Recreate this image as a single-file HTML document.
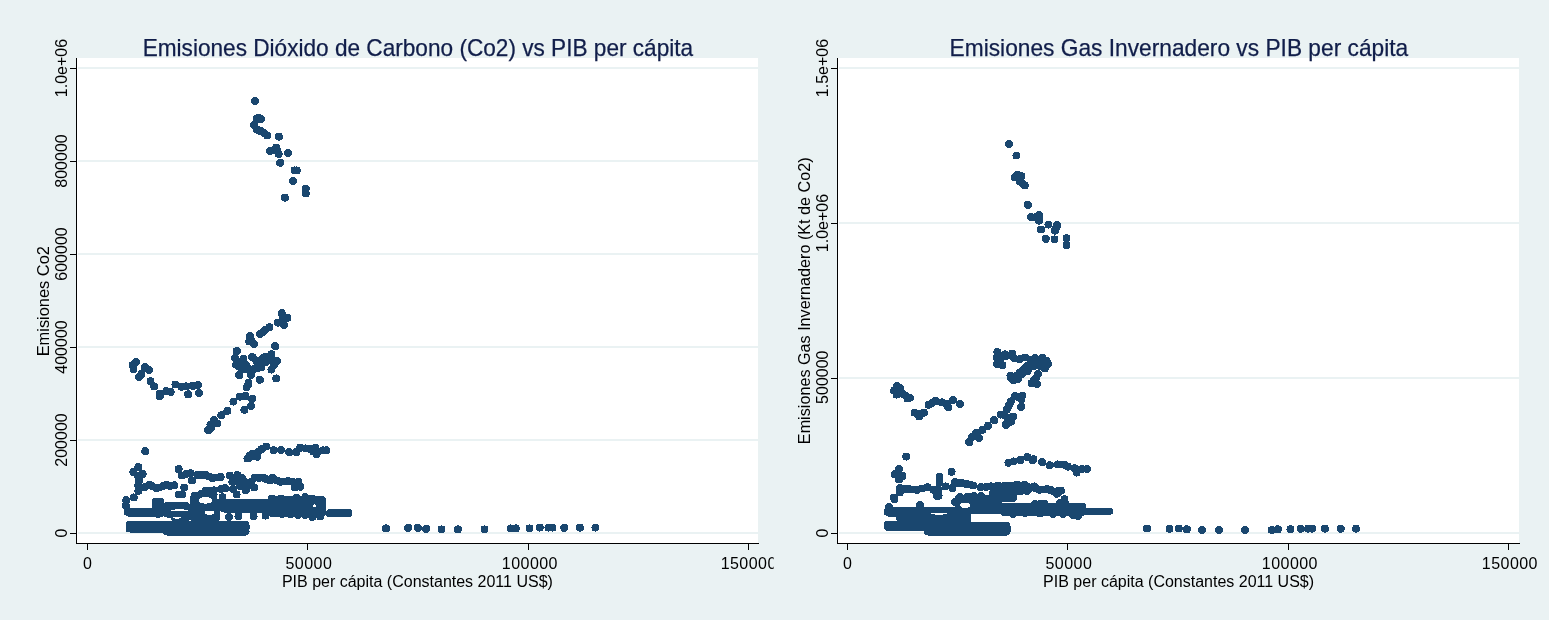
<!DOCTYPE html><html><head><meta charset="utf-8"><style>html,body{margin:0;padding:0;background:#fff;overflow:hidden}svg{display:block}text{font-family:'Liberation Sans', Arial, sans-serif}</style></head><body>
<svg width="1567" height="638" viewBox="0 0 1567 638" shape-rendering="crispEdges">
<rect x="0" y="0" width="1567" height="638" fill="#fff"/>
<rect x="0" y="0" width="1549" height="620" fill="#EAF2F3"/>
<rect x="77" y="58" width="681" height="485" fill="#fff"/>
<rect x="78" y="532" width="680" height="2" fill="#EAF2F3"/>
<rect x="78" y="439" width="680" height="2" fill="#EAF2F3"/>
<rect x="78" y="346" width="680" height="2" fill="#EAF2F3"/>
<rect x="78" y="253" width="680" height="2" fill="#EAF2F3"/>
<rect x="78" y="160" width="680" height="2" fill="#EAF2F3"/>
<rect x="78" y="67" width="680" height="2" fill="#EAF2F3"/>
<rect x="76" y="58" width="1" height="486" fill="#000"/>
<rect x="76" y="543" width="683" height="1" fill="#000"/>
<rect x="70" y="533" width="6" height="1" fill="#000"/>
<rect x="70" y="440" width="6" height="1" fill="#000"/>
<rect x="70" y="347" width="6" height="1" fill="#000"/>
<rect x="70" y="254" width="6" height="1" fill="#000"/>
<rect x="70" y="161" width="6" height="1" fill="#000"/>
<rect x="70" y="68" width="6" height="1" fill="#000"/>
<rect x="838" y="58" width="681" height="485" fill="#fff"/>
<rect x="839" y="532" width="680" height="2" fill="#EAF2F3"/>
<rect x="839" y="377" width="680" height="2" fill="#EAF2F3"/>
<rect x="839" y="222" width="680" height="2" fill="#EAF2F3"/>
<rect x="839" y="67" width="680" height="2" fill="#EAF2F3"/>
<rect x="837" y="58" width="1" height="486" fill="#000"/>
<rect x="837" y="543" width="683" height="1" fill="#000"/>
<rect x="831" y="533" width="6" height="1" fill="#000"/>
<rect x="831" y="378" width="6" height="1" fill="#000"/>
<rect x="831" y="223" width="6" height="1" fill="#000"/>
<rect x="831" y="68" width="6" height="1" fill="#000"/>
<rect x="87" y="544" width="1" height="6" fill="#000"/>
<rect x="307" y="544" width="1" height="6" fill="#000"/>
<rect x="528" y="544" width="1" height="6" fill="#000"/>
<rect x="748" y="544" width="1" height="6" fill="#000"/>
<rect x="847" y="544" width="1" height="6" fill="#000"/>
<rect x="1067" y="544" width="1" height="6" fill="#000"/>
<rect x="1288" y="544" width="1" height="6" fill="#000"/>
<rect x="1508" y="544" width="1" height="6" fill="#000"/>
<g shape-rendering="auto">
<text x="417.9" y="56" font-size="23.6" fill="#111E4A" stroke="#111E4A" stroke-width="0.25" text-anchor="middle" textLength="550.5" lengthAdjust="spacingAndGlyphs">Emisiones Dióxido de Carbono (Co2) vs PIB per cápita</text>
<text x="1178.9" y="56" font-size="23.6" fill="#111E4A" stroke="#111E4A" stroke-width="0.25" text-anchor="middle" textLength="458.6" lengthAdjust="spacingAndGlyphs">Emisiones Gas Invernadero vs PIB per cápita</text>
<text x="417.4" y="586.6" font-size="16" fill="#000" text-anchor="middle">PIB per cápita (Constantes 2011 US$)</text>
<text x="1178.6" y="586.6" font-size="16" fill="#000" text-anchor="middle">PIB per cápita (Constantes 2011 US$)</text>
<text x="87.5" y="568.6" font-size="16" fill="#000" text-anchor="middle" letter-spacing="0" clip-path="url(#clipL)">0</text>
<text x="308.9" y="568.6" font-size="16" fill="#000" text-anchor="middle" letter-spacing="0.45" clip-path="url(#clipL)">50000</text>
<text x="529.9" y="568.6" font-size="16" fill="#000" text-anchor="middle" letter-spacing="0.45" clip-path="url(#clipL)">100000</text>
<text x="748.6999999999999" y="568.6" font-size="16" fill="#000" text-anchor="middle" letter-spacing="0.45" clip-path="url(#clipL)">150000</text>
<text x="847.5" y="568.6" font-size="16" fill="#000" text-anchor="middle" letter-spacing="0">0</text>
<text x="1068.9" y="568.6" font-size="16" fill="#000" text-anchor="middle" letter-spacing="0.45">50000</text>
<text x="1289.9" y="568.6" font-size="16" fill="#000" text-anchor="middle" letter-spacing="0.45">100000</text>
<text x="1509.9" y="568.6" font-size="16" fill="#000" text-anchor="middle" letter-spacing="0.45">150000</text>
<text transform="translate(49,301.2) rotate(-90)" font-size="16" fill="#000" text-anchor="middle" textLength="110.3" lengthAdjust="spacingAndGlyphs">Emisiones Co2</text>
<text transform="translate(810,300.75) rotate(-90)" font-size="16" fill="#000" text-anchor="middle" textLength="286.8" lengthAdjust="spacingAndGlyphs">Emisiones Gas Invernadero (Kt de Co2)</text>
<text transform="translate(67,533) rotate(-90)" font-size="16" fill="#000" text-anchor="middle">0</text>
<text transform="translate(67,440) rotate(-90)" font-size="16" fill="#000" text-anchor="middle">200000</text>
<text transform="translate(67,347) rotate(-90)" font-size="16" fill="#000" text-anchor="middle">400000</text>
<text transform="translate(67,254) rotate(-90)" font-size="16" fill="#000" text-anchor="middle">600000</text>
<text transform="translate(67,161) rotate(-90)" font-size="16" fill="#000" text-anchor="middle">800000</text>
<text transform="translate(67,68) rotate(-90)" font-size="16" fill="#000" text-anchor="middle">1.0e+06</text>
<text transform="translate(828,533) rotate(-90)" font-size="16" fill="#000" text-anchor="middle">0</text>
<text transform="translate(828,377.2) rotate(-90)" font-size="16" fill="#000" text-anchor="middle">500000</text>
<text transform="translate(828,223) rotate(-90)" font-size="16" fill="#000" text-anchor="middle">1.0e+06</text>
<text transform="translate(828,68) rotate(-90)" font-size="16" fill="#000" text-anchor="middle">1.5e+06</text>
</g>
<defs><clipPath id="clipL"><rect x="0" y="0" width="773.7" height="620"/></clipPath></defs>
<g fill="#1A476F" stroke="none" shape-rendering="crispEdges">
<rect x="125.5" y="521" width="124.0" height="11.5" rx="4"/>
<rect x="163" y="527" width="86.5" height="8.5" rx="4"/>
<rect x="126" y="507.5" width="39" height="9.5" rx="4"/>
<rect x="152" y="497.5" width="12" height="20.0" rx="4"/>
<rect x="163" y="502" width="16" height="15.5" rx="4"/>
<rect x="171" y="502" width="19" height="19.5" rx="4"/>
<rect x="190" y="494" width="30" height="27.5" rx="4"/>
<rect x="220" y="499" width="56" height="13.5" rx="4"/>
<rect x="268" y="496" width="58" height="21" rx="4"/>
<rect x="326" y="509" width="26.5" height="8" rx="4"/>
<circle cx="255.0" cy="101.0" r="4.0"/>
<circle cx="256.8" cy="119.0" r="4.0"/>
<circle cx="261.1" cy="119.0" r="4.0"/>
<circle cx="258.5" cy="117.8" r="4.0"/>
<circle cx="254.2" cy="124.9" r="4.0"/>
<circle cx="256.8" cy="129.6" r="4.0"/>
<circle cx="260.7" cy="131.2" r="4.0"/>
<circle cx="263.8" cy="132.7" r="4.0"/>
<circle cx="267.3" cy="135.5" r="4.0"/>
<circle cx="278.9" cy="136.6" r="4.0"/>
<circle cx="270.1" cy="151.1" r="4.0"/>
<circle cx="276.3" cy="147.6" r="4.0"/>
<circle cx="278.7" cy="153.9" r="4.0"/>
<circle cx="274" cy="150" r="4.0"/>
<circle cx="277.5" cy="151" r="4.0"/>
<circle cx="288.0" cy="153.1" r="4.0"/>
<circle cx="280.2" cy="162.7" r="4.0"/>
<circle cx="294.5" cy="170.4" r="4.0"/>
<circle cx="296.7" cy="170.4" r="4.0"/>
<circle cx="293.2" cy="181.0" r="4.0"/>
<circle cx="305.7" cy="188.8" r="4.0"/>
<circle cx="305.7" cy="193.5" r="4.0"/>
<circle cx="284.9" cy="197.7" r="4.0"/>
<circle cx="281.7" cy="313.2" r="4.0"/>
<circle cx="287.4" cy="317.9" r="4.0"/>
<circle cx="282.7" cy="318.8" r="4.0"/>
<circle cx="278" cy="322.6" r="4.0"/>
<circle cx="284.1" cy="324.9" r="4.0"/>
<circle cx="269.5" cy="327.3" r="4.0"/>
<circle cx="265.5" cy="329.5" r="4.0"/>
<circle cx="262.9" cy="332" r="4.0"/>
<circle cx="260.1" cy="333.9" r="4.0"/>
<circle cx="249.8" cy="336.2" r="4.0"/>
<circle cx="251.6" cy="341.4" r="4.0"/>
<circle cx="254" cy="344.2" r="4.0"/>
<circle cx="275.2" cy="346.1" r="4.0"/>
<circle cx="236.8" cy="351.0" r="4.0"/>
<circle cx="235.1" cy="358.1" r="4.0"/>
<circle cx="243.4" cy="358.7" r="4.0"/>
<circle cx="236.2" cy="364.7" r="4.0"/>
<circle cx="252.7" cy="357.6" r="4.0"/>
<circle cx="257.1" cy="362.0" r="4.0"/>
<circle cx="265.9" cy="356.5" r="4.0"/>
<circle cx="271.4" cy="354.3" r="4.0"/>
<circle cx="276.8" cy="360.9" r="4.0"/>
<circle cx="270.3" cy="359.8" r="4.0"/>
<circle cx="274" cy="365" r="4.0"/>
<circle cx="265" cy="362" r="4.0"/>
<circle cx="260.5" cy="362" r="4.0"/>
<circle cx="266" cy="362" r="4.0"/>
<circle cx="263" cy="358" r="4.0"/>
<circle cx="259" cy="365.5" r="4.0"/>
<circle cx="249" cy="369" r="4.0"/>
<circle cx="246" cy="365" r="4.0"/>
<circle cx="240" cy="362" r="4.0"/>
<circle cx="238" cy="366" r="4.0"/>
<circle cx="257.6" cy="368.2" r="4.0"/>
<circle cx="254.1" cy="368.9" r="4.0"/>
<circle cx="245.6" cy="368.9" r="4.0"/>
<circle cx="242.1" cy="369.6" r="4.0"/>
<circle cx="239.3" cy="375.3" r="4.0"/>
<circle cx="252" cy="356.9" r="4.0"/>
<circle cx="256.9" cy="360.5" r="4.0"/>
<circle cx="249.2" cy="341.4" r="4.0"/>
<circle cx="248.5" cy="383" r="4.0"/>
<circle cx="261.5" cy="367.4" r="4.0"/>
<circle cx="246.1" cy="369.1" r="4.0"/>
<circle cx="241.7" cy="368.5" r="4.0"/>
<circle cx="239" cy="375.1" r="4.0"/>
<circle cx="251" cy="375.1" r="4.0"/>
<circle cx="271.4" cy="369.6" r="4.0"/>
<circle cx="259.8" cy="379.7" r="4.0"/>
<circle cx="276.3" cy="378.4" r="4.0"/>
<circle cx="248.3" cy="384.5" r="4.0"/>
<circle cx="246.7" cy="387.2" r="4.0"/>
<circle cx="240" cy="396.6" r="4.0"/>
<circle cx="245.5" cy="396.1" r="4.0"/>
<circle cx="252.1" cy="398.8" r="4.0"/>
<circle cx="233.4" cy="401.6" r="4.0"/>
<circle cx="251" cy="406" r="4.0"/>
<circle cx="244.4" cy="409.8" r="4.0"/>
<circle cx="227.4" cy="410.9" r="4.0"/>
<circle cx="221.3" cy="415.3" r="4.0"/>
<circle cx="214.2" cy="420.2" r="4.0"/>
<circle cx="217.5" cy="423.5" r="4.0"/>
<circle cx="210.4" cy="424.6" r="4.0"/>
<circle cx="208.2" cy="430.1" r="4.0"/>
<circle cx="211" cy="428" r="4.0"/>
<circle cx="248.9" cy="458" r="4.0"/>
<circle cx="249.6" cy="455.4" r="4.0"/>
<circle cx="252" cy="454" r="4.0"/>
<circle cx="258" cy="452" r="4.0"/>
<circle cx="262" cy="449" r="4.0"/>
<circle cx="247.5" cy="458.5" r="4.0"/>
<circle cx="254" cy="456" r="4.0"/>
<circle cx="255.3" cy="455.4" r="4.0"/>
<circle cx="257.2" cy="456.7" r="4.0"/>
<circle cx="261.1" cy="449.7" r="4.0"/>
<circle cx="266.2" cy="446.5" r="4.0"/>
<circle cx="273.5" cy="450.3" r="4.0"/>
<circle cx="281.2" cy="450" r="4.0"/>
<circle cx="289.1" cy="452.2" r="4.0"/>
<circle cx="296.2" cy="452.2" r="4.0"/>
<circle cx="300" cy="447.8" r="4.0"/>
<circle cx="305.7" cy="448.4" r="4.0"/>
<circle cx="315.3" cy="447.8" r="4.0"/>
<circle cx="316.6" cy="454.1" r="4.0"/>
<circle cx="323" cy="450.3" r="4.0"/>
<circle cx="326.2" cy="450.3" r="4.0"/>
<circle cx="313.4" cy="451.6" r="4.0"/>
<circle cx="310" cy="449" r="4.0"/>
<circle cx="135.9" cy="361.9" r="4.0"/>
<circle cx="132.6" cy="365.2" r="4.0"/>
<circle cx="133.5" cy="369" r="4.0"/>
<circle cx="144.8" cy="367.1" r="4.0"/>
<circle cx="149" cy="369.9" r="4.0"/>
<circle cx="139.2" cy="377" r="4.0"/>
<circle cx="141.5" cy="374.1" r="4.0"/>
<circle cx="150.5" cy="381.2" r="4.0"/>
<circle cx="154.2" cy="386.4" r="4.0"/>
<circle cx="159.8" cy="393.9" r="4.0"/>
<circle cx="159.8" cy="396.2" r="4.0"/>
<circle cx="166.4" cy="391.1" r="4.0"/>
<circle cx="170.7" cy="392" r="4.0"/>
<circle cx="175.4" cy="384.5" r="4.0"/>
<circle cx="181.5" cy="386.8" r="4.0"/>
<circle cx="186.2" cy="386.4" r="4.0"/>
<circle cx="192.7" cy="385.9" r="4.0"/>
<circle cx="197.9" cy="385" r="4.0"/>
<circle cx="188.1" cy="394.3" r="4.0"/>
<circle cx="198.9" cy="392.9" r="4.0"/>
<circle cx="145.3" cy="451.2" r="4.0"/>
<circle cx="138.3" cy="467" r="4.0"/>
<circle cx="133.4" cy="471.9" r="4.0"/>
<circle cx="142.6" cy="474" r="4.0"/>
<circle cx="138" cy="476.2" r="4.0"/>
<circle cx="139" cy="480.4" r="4.0"/>
<circle cx="138.3" cy="485.3" r="4.0"/>
<circle cx="138.3" cy="491" r="4.0"/>
<circle cx="140" cy="488" r="4.0"/>
<circle cx="149.6" cy="484.6" r="4.0"/>
<circle cx="156.7" cy="488.2" r="4.0"/>
<circle cx="159.5" cy="487.5" r="4.0"/>
<circle cx="166.6" cy="484.6" r="4.0"/>
<circle cx="174.3" cy="485.3" r="4.0"/>
<circle cx="145" cy="487" r="4.0"/>
<circle cx="152" cy="486" r="4.0"/>
<circle cx="163" cy="486" r="4.0"/>
<circle cx="170" cy="486" r="4.0"/>
<circle cx="178.6" cy="469.1" r="4.0"/>
<circle cx="182.1" cy="475.5" r="4.0"/>
<circle cx="190.5" cy="473.3" r="4.0"/>
<circle cx="192" cy="480.4" r="4.0"/>
<circle cx="197.6" cy="474.8" r="4.0"/>
<circle cx="186" cy="474" r="4.0"/>
<circle cx="184.2" cy="487.5" r="4.0"/>
<circle cx="178.6" cy="494.5" r="4.0"/>
<circle cx="182" cy="494.5" r="4.0"/>
<circle cx="194.8" cy="495.9" r="4.0"/>
<circle cx="198.5" cy="475.5" r="4.0"/>
<circle cx="205.6" cy="474.8" r="4.0"/>
<circle cx="212.6" cy="478.3" r="4.0"/>
<circle cx="220.7" cy="476.9" r="4.0"/>
<circle cx="202" cy="475" r="4.0"/>
<circle cx="209" cy="476.5" r="4.0"/>
<circle cx="216.5" cy="477.5" r="4.0"/>
<circle cx="229.6" cy="475.5" r="4.0"/>
<circle cx="237.3" cy="475.1" r="4.0"/>
<circle cx="232.4" cy="481.8" r="4.0"/>
<circle cx="238.7" cy="480.4" r="4.0"/>
<circle cx="244.4" cy="481.8" r="4.0"/>
<circle cx="251.4" cy="481.8" r="4.0"/>
<circle cx="254.3" cy="487.5" r="4.0"/>
<circle cx="245.8" cy="490.3" r="4.0"/>
<circle cx="236.6" cy="494.5" r="4.0"/>
<circle cx="233.1" cy="488.9" r="4.0"/>
<circle cx="240" cy="486" r="4.0"/>
<circle cx="248" cy="486" r="4.0"/>
<circle cx="236" cy="478" r="4.0"/>
<circle cx="242" cy="478" r="4.0"/>
<circle cx="255" cy="477.6" r="4.0"/>
<circle cx="262.7" cy="477.6" r="4.0"/>
<circle cx="269.8" cy="480.4" r="4.0"/>
<circle cx="272.6" cy="477.6" r="4.0"/>
<circle cx="259" cy="478" r="4.0"/>
<circle cx="266" cy="479" r="4.0"/>
<circle cx="197.1" cy="496.6" r="4.0"/>
<circle cx="205.6" cy="491" r="4.0"/>
<circle cx="214" cy="490.3" r="4.0"/>
<circle cx="221.1" cy="488.9" r="4.0"/>
<circle cx="225.3" cy="488.2" r="4.0"/>
<circle cx="214" cy="497.3" r="4.0"/>
<circle cx="222.5" cy="497.3" r="4.0"/>
<circle cx="201" cy="494" r="4.0"/>
<circle cx="209" cy="490.5" r="4.0"/>
<circle cx="271.9" cy="498.7" r="4.0"/>
<circle cx="273.5" cy="479" r="4.0"/>
<circle cx="280.6" cy="481.8" r="4.0"/>
<circle cx="287.6" cy="481.1" r="4.0"/>
<circle cx="298.2" cy="481.8" r="4.0"/>
<circle cx="300.3" cy="486.7" r="4.0"/>
<circle cx="294.7" cy="487.5" r="4.0"/>
<circle cx="277" cy="480.5" r="4.0"/>
<circle cx="284" cy="481.5" r="4.0"/>
<circle cx="292" cy="481.5" r="4.0"/>
<circle cx="272.1" cy="500" r="4.0"/>
<circle cx="281.3" cy="498.6" r="4.0"/>
<circle cx="289.8" cy="500" r="4.0"/>
<circle cx="296.8" cy="497.9" r="4.0"/>
<circle cx="305.3" cy="497.2" r="4.0"/>
<circle cx="312.3" cy="498.6" r="4.0"/>
<circle cx="321.5" cy="500" r="4.0"/>
<circle cx="282" cy="514.2" r="4.0"/>
<circle cx="290.5" cy="514.2" r="4.0"/>
<circle cx="298.2" cy="514.9" r="4.0"/>
<circle cx="312.3" cy="517" r="4.0"/>
<circle cx="320.1" cy="516.3" r="4.0"/>
<circle cx="322.2" cy="507.1" r="4.0"/>
<circle cx="305.3" cy="515" r="4.0"/>
<circle cx="276" cy="507" r="4.0"/>
<circle cx="284" cy="507" r="4.0"/>
<circle cx="292" cy="507" r="4.0"/>
<circle cx="300" cy="506" r="4.0"/>
<circle cx="308" cy="506" r="4.0"/>
<circle cx="316" cy="507" r="4.0"/>
<circle cx="330" cy="513.5" r="4.0"/>
<circle cx="337" cy="513.5" r="4.0"/>
<circle cx="344" cy="513.5" r="4.0"/>
<circle cx="348.5" cy="512.5" r="4.0"/>
<circle cx="133.7" cy="497.4" r="4.0"/>
<circle cx="126.3" cy="500.2" r="4.0"/>
<circle cx="125.9" cy="505.7" r="4.0"/>
<circle cx="127.8" cy="512" r="4.0"/>
<circle cx="228.9" cy="517" r="4.0"/>
<circle cx="238.4" cy="516.3" r="4.0"/>
<circle cx="253.6" cy="516.3" r="4.0"/>
<circle cx="265.5" cy="515.6" r="4.0"/>
<circle cx="386" cy="528.4" r="4.0"/>
<circle cx="408.1" cy="527.8" r="4.0"/>
<circle cx="417.8" cy="527.8" r="4.0"/>
<circle cx="426.2" cy="528.8" r="4.0"/>
<circle cx="441.5" cy="529.4" r="4.0"/>
<circle cx="457.9" cy="529.4" r="4.0"/>
<circle cx="484.5" cy="529.4" r="4.0"/>
<circle cx="510.6" cy="528.4" r="4.0"/>
<circle cx="515.8" cy="528.4" r="4.0"/>
<circle cx="529.5" cy="528.4" r="4.0"/>
<circle cx="539.8" cy="527.6" r="4.0"/>
<circle cx="548.4" cy="527.6" r="4.0"/>
<circle cx="552.5" cy="527.6" r="4.0"/>
<circle cx="564.3" cy="527.8" r="4.0"/>
<circle cx="579.9" cy="527.6" r="4.0"/>
<circle cx="595.4" cy="527.6" r="4.0"/>
<ellipse cx="179.5" cy="510.2" rx="9.5" ry="0.8" fill="#fff"/>
<ellipse cx="177" cy="517.8" rx="4.5" ry="0.8" fill="#fff"/>
<ellipse cx="314.4" cy="505.8" rx="2" ry="1.5" fill="#fff"/>
<ellipse cx="205.5" cy="500.3" rx="7" ry="3.3" fill="#fff"/>
<ellipse cx="209.5" cy="512.7" rx="5" ry="2" fill="#fff"/>
<ellipse cx="217.8" cy="497" rx="1.3" ry="2.5" fill="#fff"/>
<rect x="886" y="507" width="74" height="10" rx="4"/>
<rect x="884" y="520.5" width="76" height="10.5" rx="4"/>
<rect x="896" y="514" width="64" height="8" rx="4"/>
<rect x="924" y="522" width="86.5" height="13.5" rx="4"/>
<rect x="955" y="498" width="16" height="37.5" rx="4"/>
<rect x="955" y="494.5" width="47" height="19.7" rx="4"/>
<rect x="1000" y="502.5" width="86" height="13.5" rx="4"/>
<rect x="1082" y="507.8" width="31.5" height="7.0" rx="4"/>
<rect x="1000" y="482" width="17" height="20" rx="4"/>
<circle cx="1009.0" cy="143.9" r="4.0"/>
<circle cx="1016.5" cy="155.5" r="4.0"/>
<circle cx="1017.6" cy="175" r="4.0"/>
<circle cx="1014.8" cy="177.2" r="4.0"/>
<circle cx="1021.4" cy="176.1" r="4.0"/>
<circle cx="1019.8" cy="181.6" r="4.0"/>
<circle cx="1024.7" cy="185.4" r="4.0"/>
<circle cx="1022" cy="183" r="4.0"/>
<circle cx="1027.9" cy="204.8" r="4.0"/>
<circle cx="1030.9" cy="216.9" r="4.0"/>
<circle cx="1034.7" cy="217.4" r="4.0"/>
<circle cx="1039.1" cy="215.2" r="4.0"/>
<circle cx="1039.1" cy="220.7" r="4.0"/>
<circle cx="1041" cy="229.5" r="4.0"/>
<circle cx="1048.4" cy="224.6" r="4.0"/>
<circle cx="1057.2" cy="225.1" r="4.0"/>
<circle cx="1055" cy="230.6" r="4.0"/>
<circle cx="1056" cy="228" r="4.0"/>
<circle cx="1045.7" cy="238.8" r="4.0"/>
<circle cx="1054.5" cy="239.4" r="4.0"/>
<circle cx="1066.5" cy="238.3" r="4.0"/>
<circle cx="1066.5" cy="245.4" r="4.0"/>
<circle cx="997.4" cy="352.1" r="4.0"/>
<circle cx="997.1" cy="357.5" r="4.0"/>
<circle cx="997.1" cy="363.8" r="4.0"/>
<circle cx="1002.5" cy="365.4" r="4.0"/>
<circle cx="1004.9" cy="354.4" r="4.0"/>
<circle cx="1012.3" cy="353.6" r="4.0"/>
<circle cx="1014.3" cy="358.3" r="4.0"/>
<circle cx="1019.8" cy="359.1" r="4.0"/>
<circle cx="1025.3" cy="357.5" r="4.0"/>
<circle cx="1030.8" cy="359.9" r="4.0"/>
<circle cx="1035.5" cy="362.2" r="4.0"/>
<circle cx="1042.5" cy="357.5" r="4.0"/>
<circle cx="1046.4" cy="360.7" r="4.0"/>
<circle cx="1048" cy="363.8" r="4.0"/>
<circle cx="1044.9" cy="368.5" r="4.0"/>
<circle cx="1040" cy="362" r="4.0"/>
<circle cx="1033.9" cy="366.2" r="4.0"/>
<circle cx="1027.6" cy="370.9" r="4.0"/>
<circle cx="1022.1" cy="374" r="4.0"/>
<circle cx="1019.8" cy="372.4" r="4.0"/>
<circle cx="1010.4" cy="375.6" r="4.0"/>
<circle cx="1013.5" cy="380.3" r="4.0"/>
<circle cx="1036.2" cy="377.9" r="4.0"/>
<circle cx="1031.5" cy="383.4" r="4.0"/>
<circle cx="1037" cy="384.2" r="4.0"/>
<circle cx="1000" cy="360" r="4.0"/>
<circle cx="1006" cy="356" r="4.0"/>
<circle cx="1040" cy="366" r="4.0"/>
<circle cx="1045" cy="364" r="4.0"/>
<circle cx="1027" cy="366" r="4.0"/>
<circle cx="1024" cy="369" r="4.0"/>
<circle cx="1016" cy="376" r="4.0"/>
<circle cx="1018" cy="379" r="4.0"/>
<circle cx="1008" cy="355.5" r="4.0"/>
<circle cx="1035" cy="358" r="4.0"/>
<circle cx="1038" cy="374" r="4.0"/>
<circle cx="1034" cy="380" r="4.0"/>
<circle cx="1011" cy="378" r="4.0"/>
<circle cx="1015" cy="396.2" r="4.0"/>
<circle cx="1022.2" cy="395.7" r="4.0"/>
<circle cx="1021.2" cy="399.3" r="4.0"/>
<circle cx="1011" cy="401.3" r="4.0"/>
<circle cx="1008.9" cy="405.4" r="4.0"/>
<circle cx="1006.9" cy="409.5" r="4.0"/>
<circle cx="1018" cy="397" r="4.0"/>
<circle cx="1021.2" cy="406.9" r="4.0"/>
<circle cx="1000.8" cy="414.6" r="4.0"/>
<circle cx="1004.9" cy="415.6" r="4.0"/>
<circle cx="1013" cy="416.6" r="4.0"/>
<circle cx="1011" cy="421.7" r="4.0"/>
<circle cx="1005.9" cy="424.8" r="4.0"/>
<circle cx="1008" cy="419" r="4.0"/>
<circle cx="994.1" cy="420.2" r="4.0"/>
<circle cx="988" cy="425.8" r="4.0"/>
<circle cx="982.4" cy="429.9" r="4.0"/>
<circle cx="976.3" cy="432.9" r="4.0"/>
<circle cx="972.2" cy="437" r="4.0"/>
<circle cx="969.2" cy="442.1" r="4.0"/>
<circle cx="978.9" cy="438" r="4.0"/>
<circle cx="974" cy="436" r="4.0"/>
<circle cx="897.2" cy="386" r="4.0"/>
<circle cx="894.1" cy="390.7" r="4.0"/>
<circle cx="899.6" cy="391.5" r="4.0"/>
<circle cx="896.5" cy="394.6" r="4.0"/>
<circle cx="900" cy="388" r="4.0"/>
<circle cx="903" cy="394" r="4.0"/>
<circle cx="906" cy="396" r="4.0"/>
<circle cx="917" cy="414" r="4.0"/>
<circle cx="907.4" cy="398.5" r="4.0"/>
<circle cx="909.8" cy="397.7" r="4.0"/>
<circle cx="914.5" cy="412.6" r="4.0"/>
<circle cx="921.5" cy="413.4" r="4.0"/>
<circle cx="923.9" cy="412.6" r="4.0"/>
<circle cx="919.2" cy="416.5" r="4.0"/>
<circle cx="928.6" cy="404.8" r="4.0"/>
<circle cx="935.6" cy="400.9" r="4.0"/>
<circle cx="941.9" cy="402.4" r="4.0"/>
<circle cx="948.2" cy="407.1" r="4.0"/>
<circle cx="952.9" cy="400.1" r="4.0"/>
<circle cx="959.9" cy="404" r="4.0"/>
<circle cx="946.6" cy="404" r="4.0"/>
<circle cx="932" cy="403" r="4.0"/>
<circle cx="906.3" cy="456.6" r="4.0"/>
<circle cx="899" cy="469.1" r="4.0"/>
<circle cx="894.7" cy="474.3" r="4.0"/>
<circle cx="902.4" cy="476" r="4.0"/>
<circle cx="899" cy="479.5" r="4.0"/>
<circle cx="899.8" cy="488.1" r="4.0"/>
<circle cx="899.8" cy="492.4" r="4.0"/>
<circle cx="908.4" cy="489" r="4.0"/>
<circle cx="917.1" cy="489.8" r="4.0"/>
<circle cx="927.4" cy="487.2" r="4.0"/>
<circle cx="933.4" cy="489.8" r="4.0"/>
<circle cx="904" cy="489" r="4.0"/>
<circle cx="912" cy="489.5" r="4.0"/>
<circle cx="922" cy="488.5" r="4.0"/>
<circle cx="939.5" cy="476.9" r="4.0"/>
<circle cx="939.5" cy="482.9" r="4.0"/>
<circle cx="938.6" cy="489.8" r="4.0"/>
<circle cx="936.9" cy="495.9" r="4.0"/>
<circle cx="951.6" cy="471.7" r="4.0"/>
<circle cx="955" cy="482.1" r="4.0"/>
<circle cx="952.4" cy="488.1" r="4.0"/>
<circle cx="945.5" cy="486.4" r="4.0"/>
<circle cx="893.8" cy="497.6" r="4.0"/>
<circle cx="1008.4" cy="462.7" r="4.0"/>
<circle cx="1013.6" cy="461.4" r="4.0"/>
<circle cx="1020.5" cy="460.1" r="4.0"/>
<circle cx="1027.4" cy="457.1" r="4.0"/>
<circle cx="1032.6" cy="460.1" r="4.0"/>
<circle cx="958.4" cy="482.9" r="4.0"/>
<circle cx="966.2" cy="483.8" r="4.0"/>
<circle cx="973.1" cy="485.5" r="4.0"/>
<circle cx="980.9" cy="487.2" r="4.0"/>
<circle cx="991.2" cy="486.4" r="4.0"/>
<circle cx="998.1" cy="485.5" r="4.0"/>
<circle cx="962" cy="483" r="4.0"/>
<circle cx="970" cy="484.5" r="4.0"/>
<circle cx="986" cy="487" r="4.0"/>
<circle cx="992.9" cy="493.3" r="4.0"/>
<circle cx="999.8" cy="493.3" r="4.0"/>
<circle cx="1006.7" cy="493.3" r="4.0"/>
<circle cx="1013.6" cy="489.8" r="4.0"/>
<circle cx="996" cy="490" r="4.0"/>
<circle cx="1004" cy="490" r="4.0"/>
<circle cx="1017.1" cy="484.7" r="4.0"/>
<circle cx="1024.8" cy="484.7" r="4.0"/>
<circle cx="1030" cy="488.1" r="4.0"/>
<circle cx="1034.3" cy="486.4" r="4.0"/>
<circle cx="967.9" cy="496.7" r="4.0"/>
<circle cx="980.9" cy="495.9" r="4.0"/>
<circle cx="960" cy="497" r="4.0"/>
<circle cx="974" cy="496" r="4.0"/>
<circle cx="1033.4" cy="459.2" r="4.0"/>
<circle cx="1042.1" cy="462.2" r="4.0"/>
<circle cx="1049.8" cy="465.3" r="4.0"/>
<circle cx="1057.6" cy="464.4" r="4.0"/>
<circle cx="1064.5" cy="464.8" r="4.0"/>
<circle cx="1067.9" cy="466.6" r="4.0"/>
<circle cx="1074.8" cy="468.3" r="4.0"/>
<circle cx="1076.6" cy="472.6" r="4.0"/>
<circle cx="1081.7" cy="469.1" r="4.0"/>
<circle cx="1086.9" cy="469.1" r="4.0"/>
<circle cx="1061" cy="464.5" r="4.0"/>
<circle cx="1032.6" cy="487.2" r="4.0"/>
<circle cx="1039.5" cy="489.8" r="4.0"/>
<circle cx="1047.2" cy="489" r="4.0"/>
<circle cx="1054.1" cy="491.6" r="4.0"/>
<circle cx="1061" cy="490.7" r="4.0"/>
<circle cx="1036" cy="488.5" r="4.0"/>
<circle cx="1043" cy="489.5" r="4.0"/>
<circle cx="1050.5" cy="490" r="4.0"/>
<circle cx="1058" cy="491" r="4.0"/>
<circle cx="1064.5" cy="499.3" r="4.0"/>
<circle cx="1020" cy="491.5" r="4.0"/>
<circle cx="1027" cy="491" r="4.0"/>
<circle cx="1022" cy="486" r="4.0"/>
<circle cx="1028" cy="487" r="4.0"/>
<circle cx="1035" cy="504" r="4.0"/>
<circle cx="1040" cy="504" r="4.0"/>
<circle cx="1044" cy="503.5" r="4.0"/>
<circle cx="1060" cy="503" r="4.0"/>
<circle cx="1065" cy="503" r="4.0"/>
<circle cx="1073" cy="515" r="4.0"/>
<circle cx="1078" cy="516" r="4.0"/>
<circle cx="1053" cy="514" r="4.0"/>
<circle cx="1040" cy="513.5" r="4.0"/>
<circle cx="1025" cy="513" r="4.0"/>
<circle cx="1013" cy="514" r="4.0"/>
<circle cx="1030" cy="512.5" r="4.0"/>
<circle cx="1063" cy="514" r="4.0"/>
<circle cx="894.5" cy="499.3" r="4.0"/>
<circle cx="889.2" cy="507.1" r="4.0"/>
<circle cx="887.8" cy="512" r="4.0"/>
<circle cx="887.8" cy="526.2" r="4.0"/>
<circle cx="938.6" cy="495.8" r="4.0"/>
<circle cx="920" cy="505" r="4.0"/>
<circle cx="955" cy="502" r="4.0"/>
<circle cx="1056.8" cy="493.7" r="4.0"/>
<circle cx="1147.1" cy="528.5" r="4.0"/>
<circle cx="1169.5" cy="528.7" r="4.0"/>
<circle cx="1178.7" cy="528.5" r="4.0"/>
<circle cx="1186.9" cy="529.3" r="4.0"/>
<circle cx="1201.9" cy="530" r="4.0"/>
<circle cx="1219.1" cy="530" r="4.0"/>
<circle cx="1245.1" cy="530" r="4.0"/>
<circle cx="1271.7" cy="530" r="4.0"/>
<circle cx="1277.9" cy="529.3" r="4.0"/>
<circle cx="1290.4" cy="529.3" r="4.0"/>
<circle cx="1300.7" cy="528.7" r="4.0"/>
<circle cx="1308" cy="528.7" r="4.0"/>
<circle cx="1312.1" cy="528.7" r="4.0"/>
<circle cx="1324.9" cy="528.7" r="4.0"/>
<circle cx="1340.7" cy="528.7" r="4.0"/>
<circle cx="1356" cy="528.7" r="4.0"/>
<ellipse cx="965.3" cy="505.2" rx="5" ry="2.7" fill="#fff"/>
<ellipse cx="939" cy="513.8" rx="9" ry="0.8" fill="#fff"/>
</g>
</svg></body></html>
